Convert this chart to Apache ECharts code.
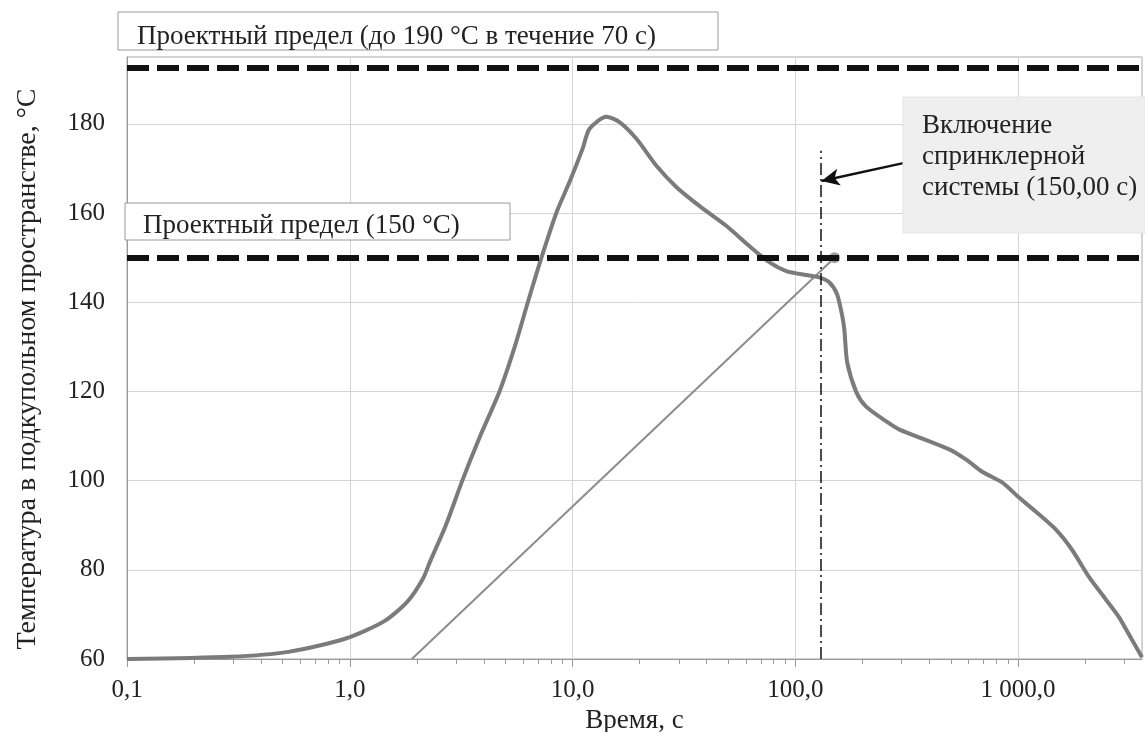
<!DOCTYPE html>
<html>
<head>
<meta charset="utf-8">
<script src="https://cdn.jsdelivr.net/npm/echarts@6/dist/echarts.min.js"></script>
<style>
  html, body { margin: 0; padding: 0; background: #fff; }
  #chart { width: 1145px; height: 732px; }
</style>
</head>
<body>
<div id="chart"></div>
<script>
// temperature curve (time, s / temperature, °C)
const timeValues = [0.1, 0.29, 0.53, 0.96, 1.43, 1.81, 2.13, 2.3, 2.7, 3.2, 3.85, 4.7, 5.5, 6.3, 7.25,
  8.48, 9.7, 11.09, 11.92, 14.2, 16.25, 19.4, 23.8, 29.3, 37.1, 49.1, 62.2, 76.4, 91.2, 112, 128,
  142, 154, 162.5, 166, 171, 188, 208, 256, 292, 491, 585, 690, 848, 1010, 1204, 1479, 1746,
  2080, 2482, 2837, 3244, 3600];
const tempValues = [60, 60.5, 61.6, 64.6, 68.5, 72.8, 78, 82, 90, 100, 110, 120, 130, 140, 150,
  160.2, 167, 174.4, 178.9, 181.6, 180.4, 176.6, 170.6, 165.8, 161.6, 157.1, 152.6, 149, 147, 146.1, 145.6,
  144.5, 141.8, 136.9, 133.9, 126.5, 119.8, 116.6, 113.3, 111.5, 107, 104.7, 102, 99.6, 96.2, 93, 89,
  84.5, 78.4, 73.3, 69.4, 64.3, 60.4];

// thin straight line up to the sprinkler point
const trendTimes = [1.9, 150];
const trendTemps = [60, 150];

// design limits and sprinkler activation
const limitHigh = 192.5;
const limitLow = 150;
const sprinklerTime = 130;
const sprinklerLineTop = 174;
const arrowFrom = [305, 171.2];
const arrowTo = [131, 167.2];

const xTickValues = [0.1, 1, 10, 100, 1000];
const xTickLabels = ["0,1", "1,0", "10,0", "100,0", "1 000,0"];
const xMinorValues = [];
[0.1, 1, 10, 100, 1000].forEach((d) => {
  for (let k = 2; k <= 9; k++) {
    if (d * k <= 3600) xMinorValues.push(d * k);
  }
});
const yTickValues = [60, 80, 100, 120, 140, 160, 180];

const font = "Liberation Serif";

var myChart = echarts.init(document.getElementById("chart"));

let option = {
  animation: false,
  textStyle: { fontFamily: font, color: "#222" },
  grid: {
    left: 127,
    right: 3,
    top: 57,
    bottom: 73,
    outerBoundsMode: "none",
    containLabel: false,
    show: true,
    borderColor: "#a8a8a8",
    borderWidth: 1,
  },
  xAxis: [
    {
      type: "log",
      logBase: 10,
      min: 0.1,
      max: 3600,
      name: "Время, с",
      nameLocation: "middle",
      nameGap: 43,
      nameTextStyle: { fontSize: 27, color: "#222", fontFamily: font },
      axisLine: { lineStyle: { color: "#9a9a9a" } },
      axisTick: { show: true, customValues: xTickValues, length: 8, lineStyle: { color: "#9a9a9a" } },
      axisLabel: {
        customValues: xTickValues,
        fontSize: 25,
        color: "#222",
        fontFamily: font,
        margin: 19,
        formatter: (v) => {
          for (let i = 0; i < xTickValues.length; i++) {
            if (Math.abs(Math.log10(v) - Math.log10(xTickValues[i])) < 1e-6) return xTickLabels[i];
          }
          return "";
        },
      },
      splitLine: { show: true, lineStyle: { color: "#d4d4d4" } },
    },
    {
      type: "log",
      logBase: 10,
      min: 0.1,
      max: 3600,
      position: "bottom",
      axisLine: { show: false },
      axisTick: { show: true, customValues: xMinorValues, length: 5, lineStyle: { color: "#9a9a9a" } },
      axisLabel: { show: false },
      splitLine: { show: false },
    },
  ],
  yAxis: {
    type: "value",
    min: 60,
    max: 195,
    interval: 20,
    name: "Температура в подкупольном пространстве, °C",
    nameLocation: "middle",
    nameGap: 85,
    nameTextStyle: { fontSize: 28, color: "#222", fontFamily: font, padding: [0, 22, 0, 0] },
    axisLine: { show: true, lineStyle: { color: "#9a9a9a" } },
    axisTick: { show: false },
    axisLabel: {
      fontSize: 25,
      color: "#222",
      fontFamily: font,
      margin: 22,
      formatter: (v) => (yTickValues.indexOf(v) >= 0 ? String(v) : ""),
    },
    splitLine: { show: true, lineStyle: { color: "#d4d4d4" } },
  },
  series: [
    {
      type: "line",
      data: trendTimes.map((t, i) => ({
        value: [t, trendTemps[i]],
        symbol: i === trendTimes.length - 1 ? "circle" : "none",
        symbolSize: 11,
      })),
      showSymbol: true,
      lineStyle: { color: "#8c8c8c", width: 2 },
      itemStyle: { color: "#a0a0a0" },
      z: 2,
      markLine: {
        silent: true,
        symbol: "none",
        label: { show: false },
        data: [
          [
            { coord: [sprinklerTime, 60] },
            { coord: [sprinklerTime, sprinklerLineTop] },
          ],
          [
            { coord: arrowFrom, symbol: "none", lineStyle: { type: "solid", width: 2.5, color: "#111" } },
            { coord: arrowTo, symbol: "arrow", symbolSize: [13, 18] },
          ],
        ],
        lineStyle: { color: "#111", width: 1.5, type: [12, 4, 2, 4] },
      },
    },
    {
      type: "line",
      data: timeValues.map((t, i) => [t, tempValues[i]]),
      showSymbol: false,
      smooth: 0.25,
      lineStyle: { color: "#7b7b7b", width: 4 },
      z: 3,
      markLine: {
        silent: true,
        symbol: "none",
        label: { show: false },
        lineStyle: { color: "#111", width: 6, type: [22, 8] },
        data: [{ yAxis: limitHigh }, { yAxis: limitLow }],
      },
    },
  ],
  graphic: [
    {
      type: "rect",
      shape: { x: 118, y: 12, width: 600, height: 38 },
      style: { fill: "#fff", stroke: "#9a9a9a", lineWidth: 1 },
      z: 10,
    },
    {
      type: "text",
      left: 137,
      top: 23,
      style: { text: "Проектный предел (до 190 °C в течение 70 с)", font: "27px " + font, fill: "#222" },
      z: 11,
    },
    {
      type: "rect",
      shape: { x: 125, y: 203, width: 385, height: 37 },
      style: { fill: "#fff", stroke: "#9a9a9a", lineWidth: 1 },
      z: 10,
    },
    {
      type: "text",
      left: 143,
      top: 212,
      style: { text: "Проектный предел (150 °C)", font: "27px " + font, fill: "#222" },
      z: 11,
    },
    {
      type: "rect",
      shape: { x: 903, y: 97, width: 242, height: 136 },
      style: { fill: "#efefef", stroke: "#e4e4e4", lineWidth: 1 },
      z: 10,
    },
    {
      type: "text",
      left: 922,
      top: 110,
      style: {
        text: "Включение\nспринклерной\nсистемы (150,00 с)",
        font: "27px " + font,
        lineHeight: 31,
        fill: "#222",
      },
      z: 11,
    },
  ],
};
myChart.setOption(option);
</script>
</body>
</html>
